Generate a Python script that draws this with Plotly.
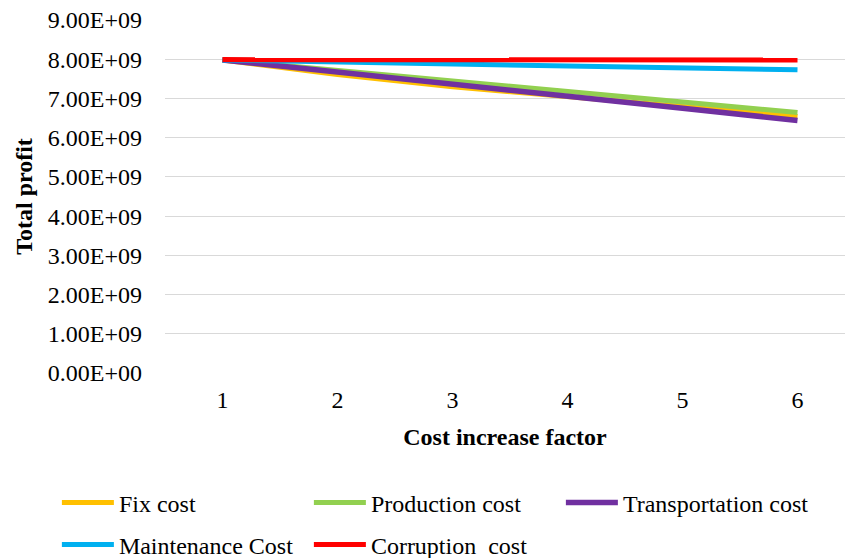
import plotly.graph_objects as go

# Cost increase factor (x categories)
factors = ["1", "2", "3", "4", "5", "6"]

# Total profit for each cost scenario
fix_cost = [7.98e9, 7.61e9, 7.30e9, 7.04e9, 6.79e9, 6.54e9]
production_cost = [7.98e9, 7.72e9, 7.45e9, 7.18e9, 6.91e9, 6.64e9]
transportation_cost = [7.98e9, 7.68e9, 7.37e9, 7.06e9, 6.75e9, 6.44e9]
maintenance_cost = [7.98e9, 7.93e9, 7.88e9, 7.84e9, 7.80e9, 7.73e9]
corruption_cost = [7.99e9, 7.99e9, 7.988e9, 7.985e9, 7.983e9, 7.98e9]

# Y-axis ticks
y_ticks = [0, 1e9, 2e9, 3e9, 4e9, 5e9, 6e9, 7e9, 8e9, 9e9]
y_tick_labels = ["0.00E+00", "1.00E+09", "2.00E+09", "3.00E+09", "4.00E+09",
                 "5.00E+09", "6.00E+09", "7.00E+09", "8.00E+09", "9.00E+09"]

# name, values, colour, width, legend row
series = [
    ("Fix cost", fix_cost, "#FFC000", 5, "legend"),
    ("Production cost", production_cost, "#92D050", 5, "legend"),
    ("Transportation cost", transportation_cost, "#7030A0", 5.5, "legend"),
    ("Maintenance Cost", maintenance_cost, "#00B0F0", 5, "legend2"),
    ("Corruption  cost", corruption_cost, "#FF0000", 5, "legend2"),
]

FONT = "Liberation Serif, Times New Roman, serif"
FS = 24

fig = go.Figure()
for name, vals, color, w, leg in series:
    fig.add_trace(go.Scatter(
        x=factors, y=vals, name=name, mode="lines",
        line=dict(color=color, width=w), legend=leg,
    ))

legend_style = dict(
    orientation="h", xanchor="left", yanchor="middle",
    entrywidth=185, entrywidthmode="pixels", itemwidth=52,
    font=dict(family=FONT, size=FS), bgcolor="rgba(0,0,0,0)",
)

fig.update_layout(
    width=845, height=558,
    margin=dict(l=165, r=0, t=20, b=185, autoexpand=False),
    paper_bgcolor="white", plot_bgcolor="white",
    font=dict(family=FONT, size=FS, color="#000000"),
    showlegend=True,
    legend=dict(x=-0.159, y=-0.368, **legend_style),
    legend2=dict(x=-0.159, y=-0.487, **legend_style),
    xaxis=dict(
        type="category", range=[-0.5, 5.413],
        showgrid=False, zeroline=False, showline=False,
        ticks="", tickfont=dict(size=FS), ticklabelstandoff=10,
        title=dict(text="<b>Cost increase factor</b>", font=dict(size=FS), standoff=16),
    ),
    yaxis=dict(
        range=[0, 9e9], tickvals=y_ticks, ticktext=y_tick_labels,
        showgrid=True, gridcolor="#D9D9D9", gridwidth=1.3,
        zeroline=False, showline=False, ticks="", ticklabelstandoff=22,
        tickfont=dict(size=FS),
        title=dict(text="<b>Total profit</b>", font=dict(size=FS), standoff=8),
    ),
)

fig.write_html("out.html")
